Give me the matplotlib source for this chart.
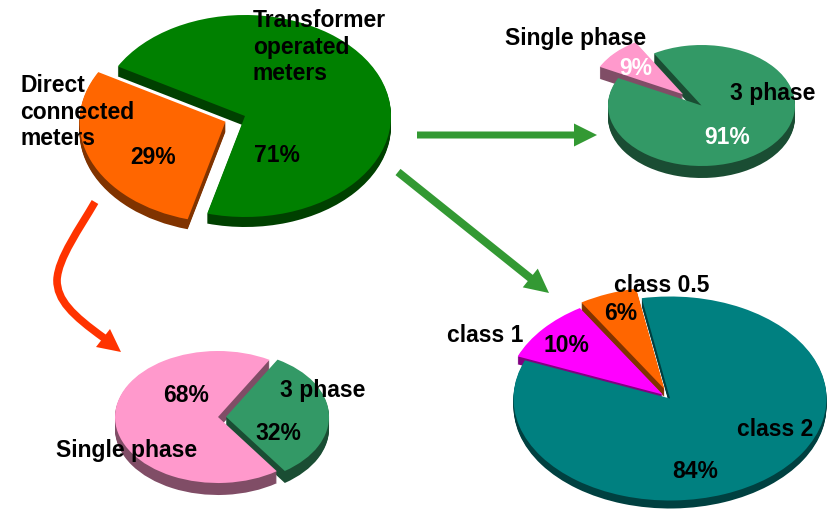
import matplotlib
matplotlib.use("Agg")
import matplotlib.pyplot as plt
from matplotlib.patches import FancyArrow, PathPatch, Polygon
from matplotlib.path import Path

W, H, DPI = 836, 509, 100
plt.rcParams['font.family'] = ['Liberation Sans', 'DejaVu Sans']
FS = 16.5

# ---- data ----
meter_labels = ["Transformer\noperated\nmeters", "Direct\nconnected\nmeters"]
meter_values = [71, 29]
trans_phase_labels = ["3 phase", "Single phase"]
trans_phase_values = [91, 9]
trans_class_labels = ["class 2", "class 0.5", "class 1"]
trans_class_values = [84, 6, 10]
direct_phase_labels = ["Single phase", "3 phase"]
direct_phase_values = [68, 32]

GREEN, GREEN_D = "#008000", "#004000"
ORANGE, ORANGE_D = "#FF6600", "#803300"
SEA, SEA_D = "#339966", "#1A4D33"
PINK, PINK_D = "#FF99CC", "#804D66"
TEAL, TEAL_D = "#008080", "#004040"
MAG, MAG_D = "#FF00FF", "#800080"
ARROW_G = "#339933"
ARROW_R = "#FF3300"

fig = plt.figure(figsize=(W / DPI, H / DPI), dpi=DPI)


def pie3d(values, colors, darks, explode, start, cx, cy, rx, ry, depth):
    ax = fig.add_axes([(cx - rx) / W, 1 - (cy + ry) / H, 2 * rx / W, 2 * ry / H])
    for k in range(depth, 0, -1):
        ax.pie(values, colors=darks, explode=explode, startangle=start,
               center=(0, -k / ry), wedgeprops=dict(linewidth=0))
    ax.pie(values, colors=colors, explode=explode, startangle=start,
           wedgeprops=dict(linewidth=0))
    ax.set_aspect('auto')
    ax.set_xlim(-1, 1)
    ax.set_ylim(-1, 1)
    return ax


pie3d(meter_values, [GREEN, ORANGE], [GREEN_D, ORANGE_D], [0, 0.145], 255,
      245, 116, 146, 101, 10)
pie3d(trans_phase_values, [SEA, PINK], [SEA_D, PINK_D], [0, 0.27], 153,
      701.5, 105.5, 93.5, 60.5, 12)
pie3d(trans_class_values, [TEAL, ORANGE, MAG], [TEAL_D, ORANGE_D, MAG_D],
      [0, 0.10, 0.06], 158, 670, 398.5, 156.5, 102, 8)
pie3d(direct_phase_values, [PINK, SEA], [PINK_D, SEA_D], [0, 0.078], 60,
      218, 417, 103, 66, 12)

# overlay in pixel coordinates for arrows and text
ov = fig.add_axes([0, 0, 1, 1], facecolor='none')
ov.set_xlim(0, W)
ov.set_ylim(H, 0)
ov.axis('off')

ov.add_patch(FancyArrow(417, 135, 180, 0, width=7, head_width=23, head_length=23,
                        length_includes_head=True, color=ARROW_G, lw=0))
ov.add_patch(FancyArrow(398, 172, 151, 121, width=8, head_width=24, head_length=24,
                        length_includes_head=True, color=ARROW_G, lw=0))
red_path = Path([(95, 202), (80, 228), (58, 258), (57, 280),
                 (57, 300), (72, 315), (104, 338)],
                [Path.MOVETO, Path.CURVE4, Path.CURVE4, Path.CURVE4,
                 Path.CURVE4, Path.CURVE4, Path.CURVE4])
ov.add_patch(PathPatch(red_path, fc='none', ec=ARROW_R, lw=5.5, capstyle='butt'))
ov.add_patch(Polygon([(121, 352), (110, 329), (96, 347)], closed=True, fc=ARROW_R, lw=0))


def label(x, y, s, color='black', ha='left', ls=1.0):
    ov.text(x, y + 1, s, fontsize=FS, fontweight='bold', color=color, ha=ha,
            va='center', linespacing=ls)


label(253, 46, meter_labels[0], ls=1.22)
label(20, 111, meter_labels[1], ls=1.2)
label(277, 155, f"{meter_values[0]}%", ha='center')
label(153, 156, f"{meter_values[1]}%", ha='center')

label(730, 92, trans_phase_labels[0])
label(505, 37, trans_phase_labels[1])
label(727, 136, f"{trans_phase_values[0]}%", color='white', ha='center')
label(636, 67, f"{trans_phase_values[1]}%", color='white', ha='center')

label(737, 428, trans_class_labels[0])
label(614, 284, trans_class_labels[1])
label(447, 335, trans_class_labels[2])
label(695, 470, f"{trans_class_values[0]}%", ha='center')
label(621, 313, f"{trans_class_values[1]}%", ha='center')
label(566, 345, f"{trans_class_values[2]}%", ha='center')

label(56, 450, direct_phase_labels[0])
label(280, 390, direct_phase_labels[1])
label(186, 395, f"{direct_phase_values[0]}%", ha='center')
label(278, 432, f"{direct_phase_values[1]}%", ha='center')

fig.savefig("out.png", dpi=DPI)
